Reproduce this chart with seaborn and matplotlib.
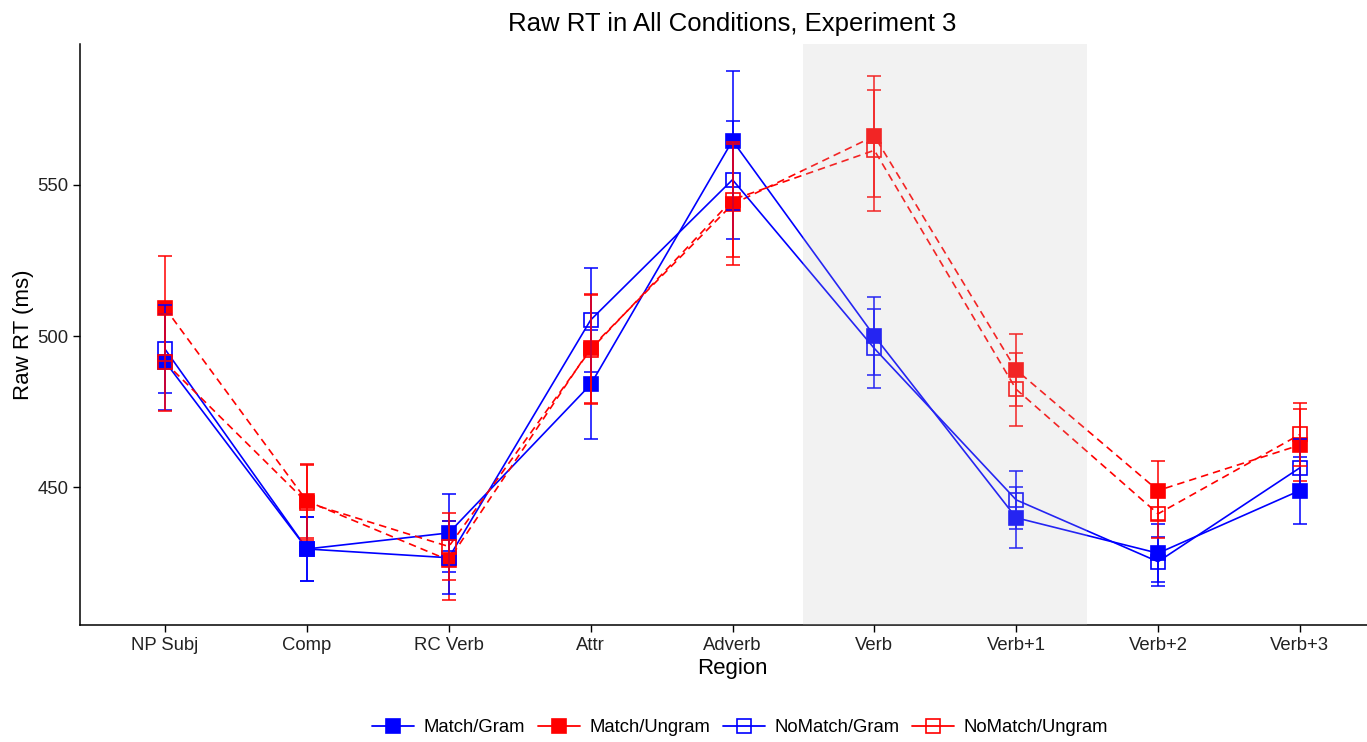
import matplotlib
matplotlib.use("Agg")
import matplotlib.pyplot as plt
from matplotlib.lines import Line2D
import seaborn as sns
import pandas as pd
import numpy as np

regions = ["NP Subj", "Comp", "RC Verb", "Attr", "Adverb", "Verb", "Verb+1", "Verb+2", "Verb+3"]
conditions = ["Match/Gram", "Match/Ungram", "NoMatch/Gram", "NoMatch/Ungram"]

match_gram = [491.5, 429.7, 435.0, 484.0, 564.5, 500.0, 440.0, 428.3, 449.0]
match_gram_se = [15.9, 10.5, 13.0, 18.0, 23.0, 13.0, 10.0, 9.5, 11.0]
match_ungram = [509.2, 445.5, 426.0, 496.0, 543.5, 566.0, 488.8, 449.0, 464.0]
match_ungram_se = [17.3, 12.3, 13.0, 18.0, 20.0, 20.0, 12.0, 9.7, 12.0]
nomatch_gram = [495.6, 429.7, 426.8, 505.3, 551.6, 495.9, 445.9, 425.5, 456.5]
nomatch_gram_se = [14.5, 10.5, 12.0, 17.3, 19.5, 13.0, 9.5, 8.0, 9.5]
nomatch_ungram = [491.3, 445.0, 430.5, 495.5, 545.0, 561.3, 482.4, 441.3, 467.5]
nomatch_ungram_se = [16.0, 12.5, 11.0, 18.0, 19.0, 20.0, 12.0, 8.0, 10.5]

means = [match_gram, match_ungram, nomatch_gram, nomatch_ungram]
ses = [match_gram_se, match_ungram_se, nomatch_gram_se, nomatch_ungram_se]
colors = {"Match/Gram": "#0000FF", "Match/Ungram": "#FF0000",
          "NoMatch/Gram": "#0000FF", "NoMatch/Ungram": "#FF0000"}
filled = {"Match/Gram": True, "Match/Ungram": True,
          "NoMatch/Gram": False, "NoMatch/Ungram": False}
dash_map = {"Match/Gram": "", "Match/Ungram": (4.5, 3),
            "NoMatch/Gram": "", "NoMatch/Ungram": (4.5, 3)}

rows = []
for c, m, s in zip(conditions, means, ses):
    for i, r in enumerate(regions):
        rows.append({"cond": c, "region": r, "pos": i, "rt": m[i], "se": s[i]})
df = pd.DataFrame(rows)

sns.set_style("ticks")
plt.rcParams["font.family"] = ["Liberation Sans", "DejaVu Sans"]

W, H = 1367, 742
fig = plt.figure(figsize=(W / 100, H / 100), dpi=100)
left, right, top, bottom = 80, 1385, 44, 625
ax = fig.add_axes([left / W, 1 - bottom / H, (right - left) / W, (bottom - top) / H])

sns.lineplot(data=df, x="pos", y="rt", hue="cond", style="cond",
             palette=colors, dashes=dash_map, hue_order=conditions,
             style_order=conditions, lw=1.2, ax=ax, legend=False, zorder=2,
             estimator=None, sort=False)

for c in conditions:
    d = df[df.cond == c]
    ax.plot(d.pos, d.rt, ls="none", marker="s", ms=9.5, mew=1.2,
            mec=colors[c], mfc=colors[c] if filled[c] else "none", zorder=3)
for c in conditions:
    d = df[df.cond == c]
    ax.errorbar(d.pos, d.rt, yerr=d.se, fmt="none", ecolor=colors[c],
                elinewidth=1.1, capsize=4.7, capthick=1.1, zorder=4)

ax.axvspan(4.5, 6.5, color="#BEBEBE", alpha=0.2, lw=0, zorder=10)

ax.set_xlim(-0.6, 8.6)
ax.set_ylim(404.6, 596.4)
ax.set_xticks(range(len(regions)))
ax.set_xticklabels(regions)
ax.set_yticks([450, 500, 550])
ax.tick_params(axis="both", labelsize=13.3, colors="black", labelcolor="#222222",
               length=5, width=1)
for sp in ["top", "right"]:
    ax.spines[sp].set_visible(False)
for sp in ["left", "bottom"]:
    ax.spines[sp].set_linewidth(1.1)
    ax.spines[sp].set_color("black")
ax.set_xlabel("Region", fontsize=16, labelpad=3, color="black")
ax.set_ylabel("Raw RT (ms)", fontsize=16, labelpad=2, color="black")
ax.set_title("Raw RT in All Conditions, Experiment 3", fontsize=18.5, pad=9, color="black")

handles = []
for c in conditions:
    handles.append(Line2D([], [], color=colors[c], lw=1.3, marker="s", ms=9.5, mew=1.2,
                          mec=colors[c], mfc=colors[c] if filled[c] else "none"))
leg = fig.legend(handles, conditions, loc="center", bbox_to_anchor=(740 / W, 1 - 728 / H),
                 ncol=4, frameon=False, fontsize=13.3, handlelength=2.27,
                 handletextpad=0.5, columnspacing=0.7)
for t in leg.get_texts():
    t.set_color("black")

fig.savefig("out.png", dpi=100)
